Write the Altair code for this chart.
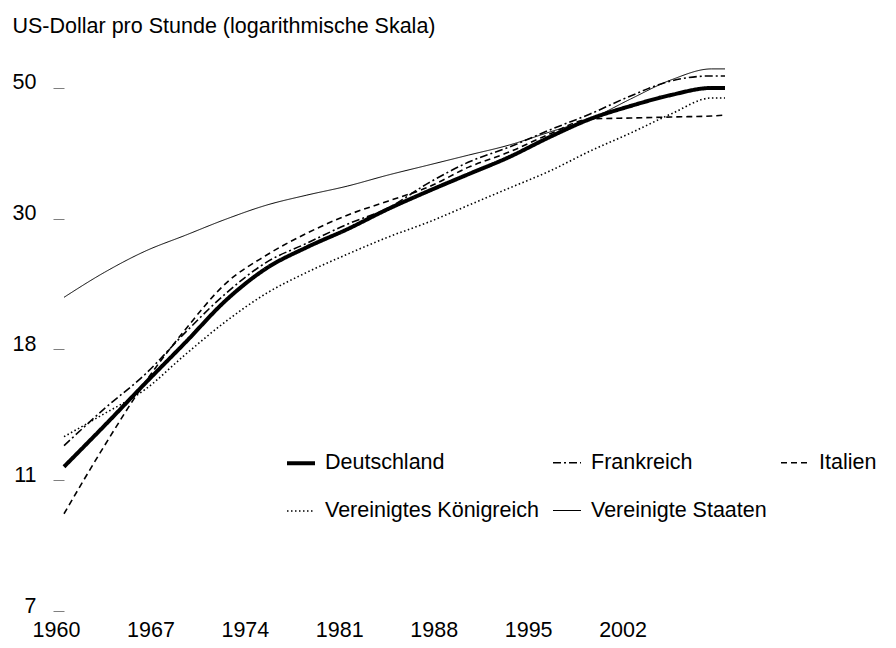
import altair as alt
import pandas as pd

# ---- data ----
years = [1960, 1963, 1966, 1969, 1972, 1975, 1978, 1981, 1984, 1987,
         1990, 1993, 1996, 1999, 2002, 2005, 2008, 2009]
deutschland = [12.04, 14.05, 16.46, 19.21, 22.50, 25.38, 27.47, 29.40, 31.70, 33.92,
               36.17, 38.56, 41.57, 44.49, 46.72, 48.69, 50.0, 50.0]
frankreich = [13.03, 14.98, 17.03, 19.95, 23.10, 25.96, 27.89, 29.96, 31.82, 34.96,
              37.84, 40.04, 42.69, 45.34, 48.52, 51.34, 52.31, 52.31]
italien = [10.09, 13.03, 16.52, 20.17, 23.99, 26.66, 28.96, 30.99, 32.67, 34.44,
           37.13, 39.29, 42.05, 44.49, 44.66, 44.83, 45.0, 45.16]
vk = [13.48, 14.70, 16.09, 18.36, 20.79, 23.10, 25.0, 26.76, 28.53, 30.18,
      32.18, 34.31, 36.58, 39.44, 42.20, 45.34, 48.15, 48.15]
usa = [22.76, 25.0, 27.06, 28.74, 30.53, 32.18, 33.42, 34.57, 36.03, 37.41,
       38.85, 40.34, 42.36, 44.49, 47.96, 51.53, 53.71, 53.71]

series_names = ["Deutschland", "Frankreich", "Italien",
                "Vereinigtes Königreich", "Vereinigte Staaten"]
series_values = [deutschland, frankreich, italien, vk, usa]

y_tick_labels = ["7", "11", "18", "30", "50"]
x_tick_labels = [1960, 1967, 1974, 1981, 1988, 1995, 2002]

# ---- styles ----
dash_range = [[1, 0], [8, 3, 2, 3], [6, 4], [1.5, 2.5], [1, 0]]
width_range = [4, 1.6, 1.6, 1.6, 1]
FONT = "Liberation Sans"
FS = 21.5

rows = []
for name, vals in zip(series_names, series_values):
    for yr, v in zip(years, vals):
        rows.append({"Jahr": yr, "Wert": v, "Land": name})
df = pd.DataFrame(rows)

# log-evenly spaced tick positions between 7 and 50 (labels as printed)
lo, hi = 7.0, 50.0
y_tick_values = [lo * (hi / lo) ** (k / 4) for k in range(5)]
label_expr = "''"
for v, lab in reversed(list(zip(y_tick_values, y_tick_labels))):
    label_expr = f"abs(datum.value - {v}) < 0.01 ? '{lab}' : ({label_expr})"

chart = alt.Chart(df).mark_line(interpolate="monotone", color="black").encode(
    x=alt.X("Jahr:Q",
            scale=alt.Scale(domain=[1960, 2009], nice=False, zero=False),
            axis=alt.Axis(values=x_tick_labels, format="d", title=None,
                          domain=False, ticks=False, grid=False,
                          labelOffset=-8, labelPadding=8, labelFlush=False,
                          labelFont=FONT, labelFontSize=FS, labelColor="black")),
    y=alt.Y("Wert:Q",
            scale=alt.Scale(type="log", domain=[7, 58.1], nice=False, zero=False),
            axis=alt.Axis(values=y_tick_values, labelExpr=label_expr,
                          domain=False, grid=False, ticks=True, tickSize=11,
                          tickColor="#7f7f7f", tickWidth=1,
                          labelPadding=17, labelOffset=-5,
                          labelFont=FONT, labelFontSize=FS, labelColor="black",
                          title="US-Dollar pro Stunde (logarithmische Skala)",
                          titleAngle=0, titleAlign="left", titleBaseline="alphabetic",
                          titleX=-52, titleY=-16, titleFont=FONT, titleFontSize=FS,
                          titleFontWeight="normal", titleColor="black")),
    strokeDash=alt.StrokeDash("Land:N",
                              scale=alt.Scale(domain=series_names, range=dash_range),
                              sort=series_names,
                              legend=alt.Legend(title=None)),
    strokeWidth=alt.StrokeWidth("Land:N",
                                scale=alt.Scale(type="ordinal", domain=series_names, range=width_range),
                                sort=series_names,
                                legend=alt.Legend(title=None)),
).properties(
    width=661,
    height=563,
    autosize=alt.AutoSizeParams(type="none"),
    padding={"left": 56, "top": 40, "right": 163, "bottom": 29},
).configure_view(
    stroke=None
).configure_legend(
    orient="none",
    direction="horizontal",
    legendX=221,
    legendY=399,
    columns=3,
    columnPadding=10,
    rowPadding=22,
    symbolType="stroke",
    symbolSize=784,
    symbolStrokeColor="black",
    symbolOffset=0,
    labelOffset=8,
    labelFont=FONT,
    labelFontSize=FS,
    labelColor="black",
    labelLimit=400,
)

chart.save("out.html", embed_options={"renderer": "svg", "actions": False})
